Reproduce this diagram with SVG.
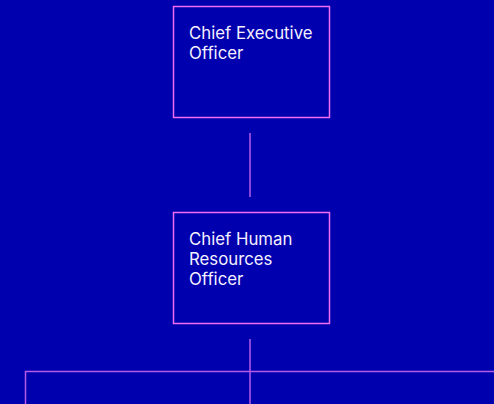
<svg xmlns="http://www.w3.org/2000/svg" width="494" height="404" viewBox="0 0 494 404">
<style>
.node rect{fill:#0000ae;stroke:#f06cf0;stroke-width:1.5}
.node text{font-family:Inter,"Liberation Sans",sans-serif;font-size:16.8px;fill:#f4f0ff}
.conn{stroke:#b45ae8;stroke-width:1.5;fill:none}
</style>
<rect width="494" height="404" fill="#0000ae"/>
<g id="connectors">
<path class="conn" d="M250 133V197"/>
<path class="conn" d="M250 339V404"/>
<path class="conn" d="M25.5 404V371.5H494"/>
</g>
<g id="ceo" class="node">
<rect x="173.5" y="6.5" width="156" height="111"/>
<text x="189" y="38.5">Chief Executive</text>
<text x="189" y="58.5">Officer</text>
</g>
<g id="chro" class="node">
<rect x="173.5" y="212.5" width="156" height="111"/>
<text x="189" y="245">Chief Human</text>
<text x="189" y="265">Resources</text>
<text x="189" y="285">Officer</text>
</g>
</svg>
